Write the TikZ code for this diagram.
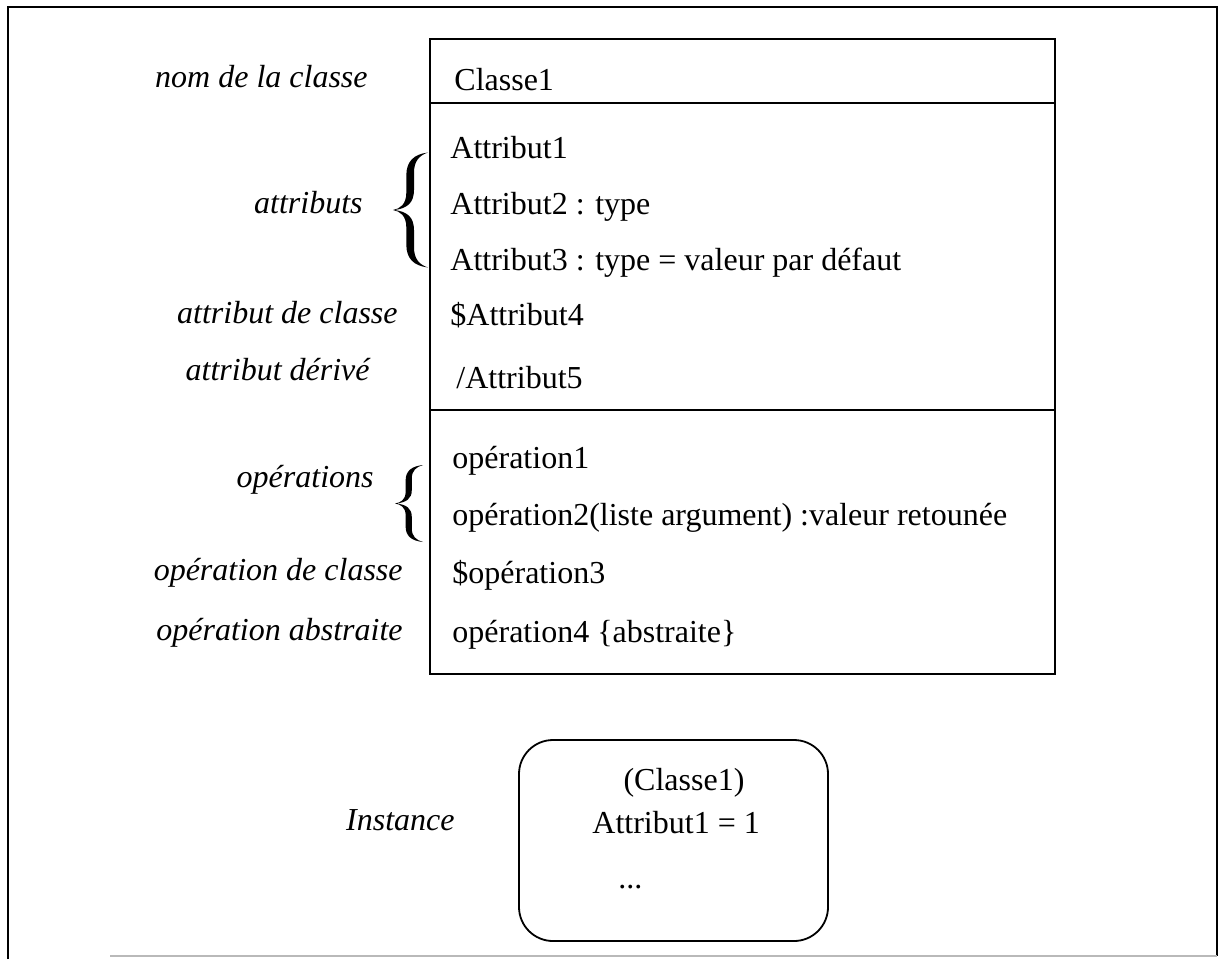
\documentclass[tikz,border=0pt]{standalone}
\usepackage{fontspec}
\setmainfont{Liberation Serif}
\begin{document}
\begin{tikzpicture}[x=0.5pt,y=-0.5pt,
  txt/.style={inner sep=0pt,font=\fontsize{16}{18}\selectfont},
  lbl/.style={inner sep=0pt,font=\fontsize{16}{18}\selectfont\itshape,anchor=base east},
  itm/.style={inner sep=0pt,font=\fontsize{16}{18}\selectfont,anchor=base west},
  frame/.style={line width=0.9pt},
  curly/.pic={\fill (1,-1) .. controls (0.6,-0.97) and (0.38,-0.85) .. (0.38,-0.6) -- (0.38,-0.3) .. controls (0.38,-0.1) and (0.2,-0.02) .. (0,0) .. controls (0.2,0.02) and (0.38,0.1) .. (0.38,0.3) -- (0.38,0.6) .. controls (0.38,0.85) and (0.6,0.97) .. (1,1) .. controls (0.75,0.95) and (0.6,0.85) .. (0.6,0.65) -- (0.6,0.35) .. controls (0.6,0.12) and (0.4,0.03) .. (0.05,0) .. controls (0.4,-0.03) and (0.6,-0.12) .. (0.6,-0.35) -- (0.6,-0.65) .. controls (0.6,-0.85) and (0.75,-0.95) .. (1,-1) -- cycle;}]
\useasboundingbox (0,0) rectangle (1219,959);
% outer frame
\draw[line width=1pt] (8,959) -- (8,7) -- (1217,7) -- (1217,956);
\draw[line width=0.8pt,gray!55] (110,956) -- (1217,956);
% class box
\coordinate (tl) at (430,39); \coordinate (br) at (1055,674);
\draw[frame] (tl) rectangle (br);
\coordinate (s1l) at (430,103); \coordinate (s1r) at (1055,103);
\coordinate (s2l) at (430,410); \coordinate (s2r) at (1055,410);
\draw[frame] (s1l) -- (s1r);
\draw[frame] (s2l) -- (s2r);
% class items
\node[itm] (c1) at (454,90) {Classe1};
\node[itm] (a1) at (450,158) {Attribut1};
\node[itm] (a2) at (450,214) {Attribut2 : type};
\node[itm] (a3) at (450,270) {Attribut3 : type = valeur par défaut};
\node[itm] (a4) at (450,325) {\$Attribut4};
\node[itm] (a5) at (456,388) {/Attribut5};
\node[itm] (o1) at (452,468) {opération1};
\node[itm] (o2) at (452,525) {opération2(liste argument) :valeur retounée};
\node[itm] (o3) at (452,583) {\$opération3};
\node[itm] (o4) at (452,642) {opération4 \{abstraite\}};
% labels
\node[lbl] (l1) at (368,87) {nom de la classe};
\node[lbl] (l2) at (363,213) {attributs};
\node[lbl] (l3) at (398,323) {attribut de classe};
\node[lbl] (l4) at (370,380) {attribut dérivé};
\node[lbl] (l5) at (374,487) {opérations};
\node[lbl] (l6) at (403,580) {opération de classe};
\node[lbl] (l7) at (403,640) {opération abstraite};
\node[lbl] (l8) at (455,830) {Instance};
% braces
\pic[xscale=35,yscale=57.5] at (393,210) {curly};
\pic[xscale=28,yscale=38.5] at (395,503.5) {curly};
% instance box
\node[draw,frame,rounded corners=17pt,minimum width=154.5pt,minimum height=100.5pt,inner sep=0pt] (inst) at (673.5,840.5) {};
\node[txt,anchor=base] (i1) at (684,790) {(Classe1)};
\node[itm] (i2) at (592,833) {Attribut1 = 1};
\node[itm] (i3) at (618,888) {...};
\end{tikzpicture}
\end{document}
